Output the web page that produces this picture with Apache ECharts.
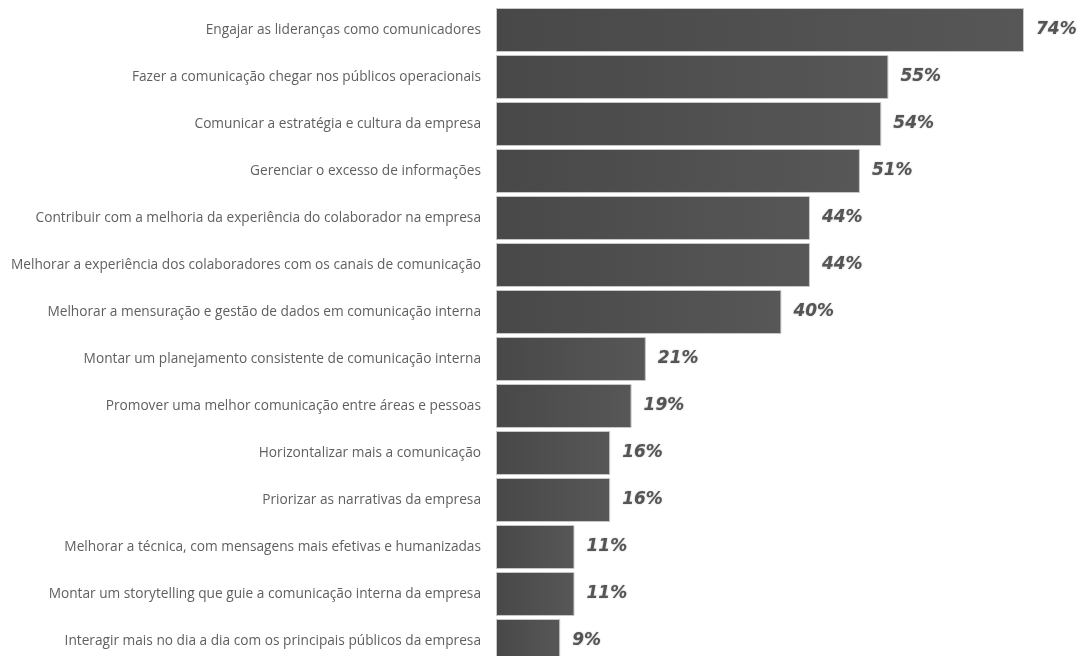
<!DOCTYPE html>
<html><head><meta charset="utf-8">
<script src="https://cdn.jsdelivr.net/npm/echarts@6/dist/echarts.min.js"></script>
<style>html,body{margin:0;padding:0;background:#fff;overflow:hidden}#c{width:1081px;height:680px}</style>
</head><body><div id="c"></div>
<script>
const categories = [
  "Engajar as lideranças como comunicadores",
  "Fazer a comunicação chegar nos públicos operacionais",
  "Comunicar a estratégia e cultura da empresa",
  "Gerenciar o excesso de informações",
  "Contribuir com a melhoria da experiência do colaborador na empresa",
  "Melhorar a experiência dos colaboradores com os canais de comunicação",
  "Melhorar a mensuração e gestão de dados em comunicação interna",
  "Montar um planejamento consistente de comunicação interna",
  "Promover uma melhor comunicação entre áreas e pessoas",
  "Horizontalizar mais a comunicação",
  "Priorizar as narrativas da empresa",
  "Melhorar a técnica, com mensagens mais efetivas e humanizadas",
  "Montar um storytelling que guie a comunicação interna da empresa",
  "Interagir mais no dia a dia com os principais públicos da empresa"
];
const values = [74, 55, 54, 51, 44, 44, 40, 21, 19, 16, 16, 11, 11, 9];

const chart = echarts.init(document.getElementById('c'), null, {renderer: 'canvas'});
chart.setOption({
  animation: false,
  grid: {left: 496, right: 57, top: 6.5, height: 658, containLabel: false},
  xAxis: {type: 'value', min: 0, max: 74, show: false},
  yAxis: {
    type: 'category', data: categories, inverse: true,
    axisLine: {show: false}, axisTick: {show: false}, splitLine: {show: false},
    axisLabel: {margin: 15, color: '#5f5f5f', fontFamily: 'Open Sans', fontSize: 13.7}
  },
  series: [{
    type: 'bar', data: values, barCategoryGap: '6.4%',
    itemStyle: {
      color: new echarts.graphic.LinearGradient(0, 0, 1, 0, [
        {offset: 0, color: '#484848'}, {offset: 1, color: '#575757'}
      ]),
      borderColor: '#c8c8c8', borderWidth: 1
    },
    label: {
      show: true, position: 'right', distance: 12, formatter: '{c}%',
      color: '#555555', fontFamily: 'DejaVu Sans', fontWeight: 'bold', fontStyle: 'italic', fontSize: 17,
      textShadowColor: 'rgba(0,0,0,0.3)', textShadowBlur: 1.5
    }
  }]
});
</script></body></html>
